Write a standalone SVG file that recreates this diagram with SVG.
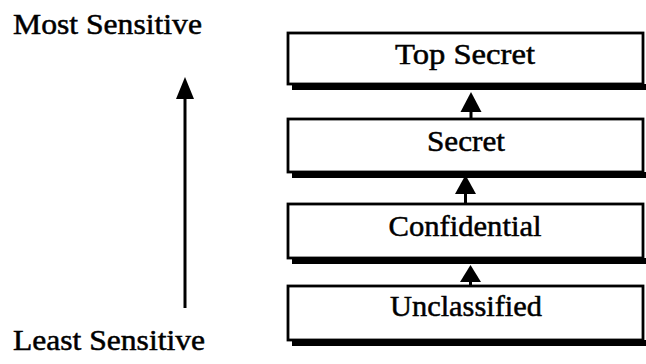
<svg xmlns="http://www.w3.org/2000/svg" width="646" height="364" viewBox="0 0 646 364">
  <style>
    .lbl { font-family: "Liberation Serif", "Times New Roman", serif; fill: #000; stroke: #000; stroke-width: 0.5; }
    .box { fill: #fff; stroke: #000; stroke-width: 2.8; }
    .shadow { fill: #000; }
    .stem { stroke: #000; stroke-width: 3; fill: none; }
    .head { fill: #000; }
  </style>
  <rect width="646" height="364" fill="#fff"/>

  <!-- scale axis -->
  <g id="axis">
    <text class="lbl" x="13" y="34" font-size="29" textLength="189" lengthAdjust="spacingAndGlyphs">Most Sensitive</text>
    <line class="stem" x1="185" y1="97" x2="185" y2="308"/>
    <polygon class="head" points="185,77 176,99 194,99"/>
    <text class="lbl" x="13" y="350" font-size="29" textLength="192" lengthAdjust="spacingAndGlyphs">Least Sensitive</text>
  </g>

  <!-- connectors between levels -->
  <g id="connectors">
    <line class="stem" x1="471" y1="108" x2="471" y2="119"/>
    <polygon class="head" points="471,92 460.5,112 481.5,112"/>
    <line class="stem" x1="465.5" y1="190" x2="465.5" y2="204"/>
    <polygon class="head" points="465.5,175 455,194 476,194"/>
    <line class="stem" x1="470.5" y1="279" x2="470.5" y2="286"/>
    <polygon class="head" points="470.5,265 460,282 481,282"/>
  </g>

  <g id="top-secret">
    <rect class="shadow" x="292" y="84" width="354" height="6"/>
    <rect class="box" x="288" y="33" width="355" height="51"/>
    <text class="lbl" x="465" y="64" font-size="30" text-anchor="middle" textLength="140" lengthAdjust="spacingAndGlyphs">Top Secret</text>
  </g>

  <g id="secret">
    <rect class="shadow" x="292" y="172" width="354" height="6"/>
    <rect class="box" x="288" y="119" width="355" height="53"/>
    <text class="lbl" x="466" y="151" font-size="30" text-anchor="middle" textLength="78" lengthAdjust="spacingAndGlyphs">Secret</text>
  </g>

  <g id="confidential">
    <rect class="shadow" x="292" y="258" width="354" height="6"/>
    <rect class="box" x="288" y="204" width="355" height="54"/>
    <text class="lbl" x="465" y="236" font-size="30" text-anchor="middle" textLength="153" lengthAdjust="spacingAndGlyphs">Confidential</text>
  </g>

  <g id="unclassified">
    <rect class="shadow" x="292" y="340" width="354" height="6"/>
    <rect class="box" x="288" y="286" width="355" height="54"/>
    <text class="lbl" x="466" y="316" font-size="30" text-anchor="middle" textLength="152" lengthAdjust="spacingAndGlyphs">Unclassified</text>
  </g>
</svg>
